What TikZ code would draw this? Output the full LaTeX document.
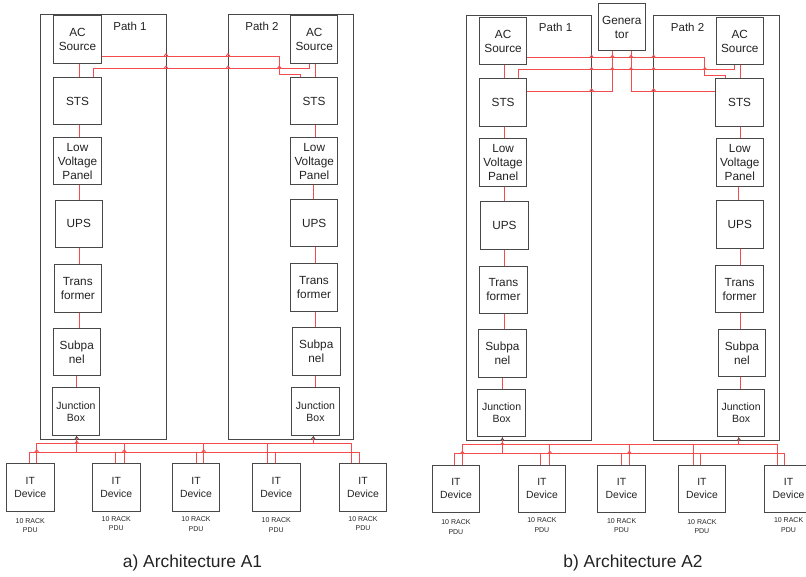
\documentclass[tikz,border=0pt]{standalone}
\usepackage{fontspec}
\setmainfont{Liberation Sans}
\definecolor{wirered}{RGB}{242,76,76}
\definecolor{boxgray}{RGB}{72,72,72}
\definecolor{txt}{RGB}{35,35,35}
\tikzset{
  wire/.style={draw=wirered, line width=0.9pt},
  hopk/.style={draw=boxgray, line width=0.8pt},
  box/.style={draw=boxgray, line width=1pt, inner sep=0pt, align=center, text=txt,
    font=\fontsize{11.8}{14}\selectfont, minimum width=47.5, minimum height=47.5},
  outer/.style={draw=boxgray, line width=1pt, inner sep=0pt},
  lbl/.style={text=txt, inner sep=0pt, font=\fontsize{11.5}{14}\selectfont},
  jb/.style={box, font=\fontsize{10.5}{12.3}\selectfont},
  dev/.style={box, font=\fontsize{10.4}{13.3}\selectfont},
  rack/.style={text=txt, inner sep=0pt, align=center, font=\fontsize{7}{9.5}\selectfont},
  captxt/.style={text=txt, inner sep=0pt, font=\fontsize{17.4}{20}\selectfont},
}
\newcommand\myhop[2]{\draw[wire] (#1-1.8,#2) -- (#1,#2-2.2) -- (#1+1.8,#2);}
\newcommand\myhopk[2]{\draw[hopk] (#1-1.8,#2) -- (#1,#2-2.2) -- (#1+1.8,#2);}
\newcommand\drawarch[1]{%
  \node[outer, minimum width=125.3, minimum height=425] (#1pa) at (103.35,226.5) {};
  \node[outer, minimum width=125.7, minimum height=425] (#1pb) at (290.85,226.5) {};
  \node[lbl] (#1la) at (130,26) {Path 1};
  \node[lbl] (#1lb) at (262,26) {Path 2};
  % left column
  \node[box] (#1ac1) at (77.5,39.5) {AC\\Source};
  \node[box] (#1sts1) at (77.5,101) {STS};
  \node[box] (#1lvp1) at (77.5,161) {Low\\Voltage\\Panel};
  \node[box] (#1ups1) at (78.8,223.8) {UPS};
  \node[box] (#1tr1) at (77.8,288.3) {Trans\\former};
  \node[box] (#1sp1) at (76.8,351.8) {Subpa\\nel};
  \node[jb] (#1jb1) at (76,411.5) {Junction\\Box};
  % right column
  \node[box] (#1ac2) at (314.2,39.5) {AC\\Source};
  \node[box] (#1sts2) at (314,101) {STS};
  \node[box] (#1lvp2) at (314.2,161) {Low\\Voltage\\Panel};
  \node[box] (#1ups2) at (314.2,223.2) {UPS};
  \node[box] (#1tr2) at (314,287.5) {Trans\\former};
  \node[box] (#1sp2) at (316.3,351.7) {Subpa\\nel};
  \node[jb] (#1jb2) at (315.5,411.5) {Junction\\Box};
  % chain wires left
  \draw[wire] (#1ac1.south -| 79,0) -- (#1sts1.north -| 79,0);
  \draw[wire] (#1sts1.south -| 79,0) -- (#1lvp1.north -| 79,0);
  \draw[wire] (#1lvp1.south -| 79,0) -- (#1ups1.north -| 79,0);
  \draw[wire] (#1ups1.south -| 79,0) -- (#1tr1.north -| 79,0);
  \draw[wire] (#1tr1.south -| 79,0) -- (#1sp1.north -| 79,0);
  \draw[wire] (#1sp1.south -| 76.7,0) -- (#1jb1.north -| 76.7,0);
  % chain wires right
  \draw[wire] (#1ac2.south -| 315.3,0) -- (#1sts2.north -| 315.3,0);
  \draw[wire] (#1sts2.south -| 315.3,0) -- (#1lvp2.north -| 315.3,0);
  \draw[wire] (#1lvp2.south -| 313.3,0) -- (#1ups2.north -| 313.3,0);
  \draw[wire] (#1ups2.south -| 315.3,0) -- (#1tr2.north -| 315.3,0);
  \draw[wire] (#1tr2.south -| 315.3,0) -- (#1sp2.north -| 315.3,0);
  \draw[wire] (#1sp2.south -| 315.3,0) -- (#1jb2.north -| 315.3,0);
  % cross feeds
  \draw[wire] (#1ac1.east |- 0,56) -- (279.3,56) |- (300,74) -- (#1sts2.north -| 300,0);
  \draw[wire] (#1sts1.north -| 93.3,0) |- (309.3,68.3) -- (#1ac2.south -| 309.3,0);
  \myhop{166}{56}\myhop{228}{56}\myhop{166}{68.3}\myhop{228}{68.3}\myhop{279.3}{68.3}
  % IT devices
  \node[dev] (#1d1) at (30.3,487.3) {IT\\Device};
  \node[dev] (#1d2) at (116.3,487.3) {IT\\Device};
  \node[dev] (#1d3) at (196,487.3) {IT\\Device};
  \node[dev] (#1d4) at (276.3,487.3) {IT\\Device};
  \node[dev] (#1d5) at (363,487.3) {IT\\Device};
  \node[rack] (#1r1) at (30.3,525.5) {10 RACK\\PDU};
  \node[rack] (#1r2) at (116.3,523.5) {10 RACK\\PDU};
  \node[rack] (#1r3) at (196,524) {10 RACK\\PDU};
  \node[rack] (#1r4) at (276.3,525) {10 RACK\\PDU};
  \node[rack] (#1r5) at (363,523.5) {10 RACK\\PDU};
  % buses
  \draw[wire] (#1d1.north -| 29,0) |- (359.3,452) -- (#1d5.north -| 359.3,0);
  \draw[wire] (#1d1.north -| 36.7,0) |- (351.7,443.3) -- (#1d5.north -| 351.7,0);
  \draw[wire] (#1d2.north -| 115,0) -- (115,452);
  \draw[wire] (#1d2.north -| 124.3,0) -- (124.3,443.3);
  \draw[wire] (#1d3.north -| 196,0) -- (196,452);
  \draw[wire] (#1d3.north -| 203.7,0) -- (203.7,443.3);
  \draw[wire] (#1d4.north -| 267.7,0) -- (267.7,443.3);
  \draw[wire] (#1d4.north -| 275.3,0) -- (275.3,452);
  \draw[wire] (#1jb1.south -| 76.7,0) -- (76.7,452);
  \draw[wire] (#1jb2.south -| 313.3,0) -- (313.3,443.3);
  \myhopk{76.7}{439}\myhopk{313.3}{439}
  \myhop{76.7}{443.3}\myhop{36.7}{452}\myhop{124.3}{452}\myhop{203.7}{452}
}
\begin{document}
\begin{tikzpicture}[x=1pt,y=-1pt]
\useasboundingbox (0,0) rectangle (806,576);
\fill[white] (0,0) rectangle (806,576);
\drawarch{a}
\begin{scope}[shift={(425.6,1.5)}]
\drawarch{b}
\end{scope}
\node[box] (gen) at (621.8,27.2) {Genera\\tor};
\draw[wire] (gen.south -| 612.3,0) |- (bsts1.east |- 0,91);
\draw[wire] (gen.south -| 631,0) |- (bsts2.west |- 0,91);
\myhop{612.3}{57.5}\myhop{631}{57.5}\myhop{612.3}{69.8}\myhop{631}{69.8}
\myhop{591.6}{91}\myhop{653.6}{91}
\node[captxt] (capa) at (192.5,563) {a) Architecture A1};
\node[captxt] (capb) at (633,563) {b) Architecture A2};
\end{tikzpicture}
\end{document}
